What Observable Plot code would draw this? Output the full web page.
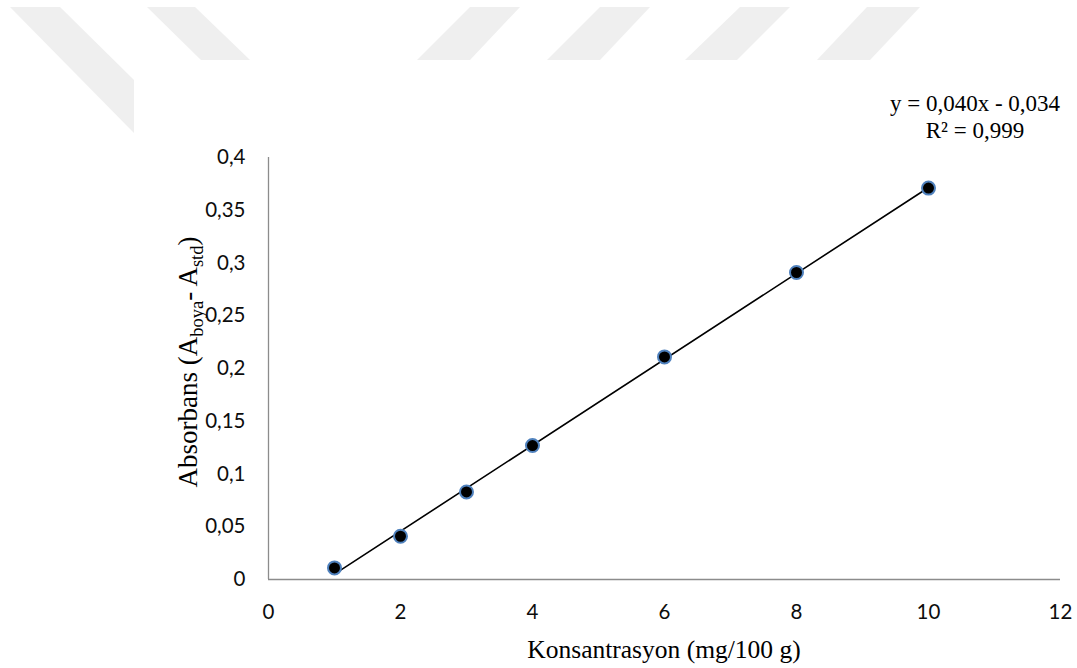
<!DOCTYPE html>
<html><head><meta charset="utf-8">
<script src="https://cdn.jsdelivr.net/npm/d3@7"></script>
<script src="https://cdn.jsdelivr.net/npm/@observablehq/plot@0.6"></script>
<style>
body{margin:0;background:#fff}
#wrap{position:relative;width:1077px;height:668px;overflow:hidden;background:#fff}
#wm{position:absolute;left:0;top:0}
#chart{position:absolute;left:0;top:0}
</style></head><body>
<div id="wrap">
<svg id="wm" width="1077" height="668" aria-hidden="true"><g fill="#efefef">
<polygon points="10,7 60,7 134,80 134,133"/>
<polygon points="147,7 195,7 250,60 201,60"/>
<polygon points="470,7 520,7 470,60 417,60"/>
<polygon points="600,7 650,7 600,60 547,60"/>
<polygon points="740,7 790,7 737,60 685,60"/>
<polygon points="867,7 920,7 870,60 817,60"/>
</g></svg>
<div id="chart"></div>
</div>
<script>
// Data
const konsantrasyon = [1, 2, 3, 4, 6, 8, 10];
const absorbans = [0.011, 0.041, 0.083, 0.127, 0.211, 0.291, 0.371];
const xTicks = [0, 2, 4, 6, 8, 10, 12];
const yTicks = [0, 0.05, 0.1, 0.15, 0.2, 0.25, 0.3, 0.35, 0.4];
const equationLines = ["y = 0,040x - 0,034", "R² = 0,999"];
const xTitle = "Konsantrasyon (mg/100 g)";
const yTitleParts = [
  {t: "Absorbans (A", sub: false},
  {t: "boya", sub: true},
  {t: "- A", sub: false},
  {t: "std", sub: true},
  {t: ")", sub: false}
];

const table = konsantrasyon.map((k, i) => ({k, a: absorbans[i]}));
const fmt = d => String(d).replace(".", ",");
const axisColor = "#8c8c8c";
const tickFont = {fontSize: 20.5, fontFamily: "Lato, sans-serif", fill: "#0d0d0d"};

const chart = Plot.plot({
  width: 1077,
  height: 668,
  marginLeft: 268,
  marginRight: 17,
  marginTop: 157,
  marginBottom: 89,
  style: {background: "transparent", fontFamily: "Lato, sans-serif", fontSize: "20px", color: "#0d0d0d"},
  x: {domain: [0, 12]},
  y: {domain: [0, 0.4]},
  marks: [
    Plot.ruleY([0], {stroke: axisColor, strokeWidth: 1.3}),
    Plot.ruleX([0], {stroke: axisColor, strokeWidth: 1.3}),
    Plot.axisX({ticks: xTicks, tickSize: 0, tickPadding: 25, label: null, tickFormat: fmt, ...tickFont}),
    Plot.axisY({ticks: yTicks, tickSize: 0, tickPadding: 23, label: null, tickFormat: fmt, ...tickFont}),
    Plot.linearRegressionY(table, {x: "k", y: "a", ci: 0, stroke: "black", strokeWidth: 1.6}),
    Plot.dot(table, {x: "k", y: "a", r: 6.5, fill: "black", stroke: "#4f81bd", strokeWidth: 2})
  ]
});
document.getElementById("chart").append(chart);

const svgSel = d3.select(chart);
const xs = chart.scale("x"), ys = chart.scale("y");
const frameLeft = xs.apply(0), frameRight = xs.apply(12), frameTop = ys.apply(0.4), frameBottom = ys.apply(0);
const serif = "'Liberation Serif', 'Times New Roman', serif";

// x title
svgSel.append("text")
  .attr("x", (frameLeft + frameRight) / 2).attr("y", frameBottom + 79)
  .attr("text-anchor", "middle")
  .attr("font-family", serif).attr("font-size", 25.5).attr("fill", "#000")
  .text(xTitle);

// y title with subscripts
const yt = svgSel.append("text")
  .attr("transform", `translate(${frameLeft - 71},${(frameTop + frameBottom) / 2 - 6}) rotate(-90)`)
  .attr("text-anchor", "middle")
  .attr("font-family", serif).attr("font-size", 27).attr("fill", "#000");
yTitleParts.forEach((p, i) => {
  yt.append("tspan")
    .attr("font-size", p.sub ? 18.5 : 27)
    .attr("dy", p.sub ? 6 : (i === 0 ? 0 : -6))
    .text(p.t);
});

// regression equation
equationLines.forEach((line, i) => {
  svgSel.append("text")
    .attr("x", frameRight - 85).attr("y", frameTop - 46 + i * 26.5)
    .attr("text-anchor", "middle")
    .attr("font-family", serif).attr("font-size", 23).attr("fill", "#000")
    .text(line);
});
</script>
</body></html>
